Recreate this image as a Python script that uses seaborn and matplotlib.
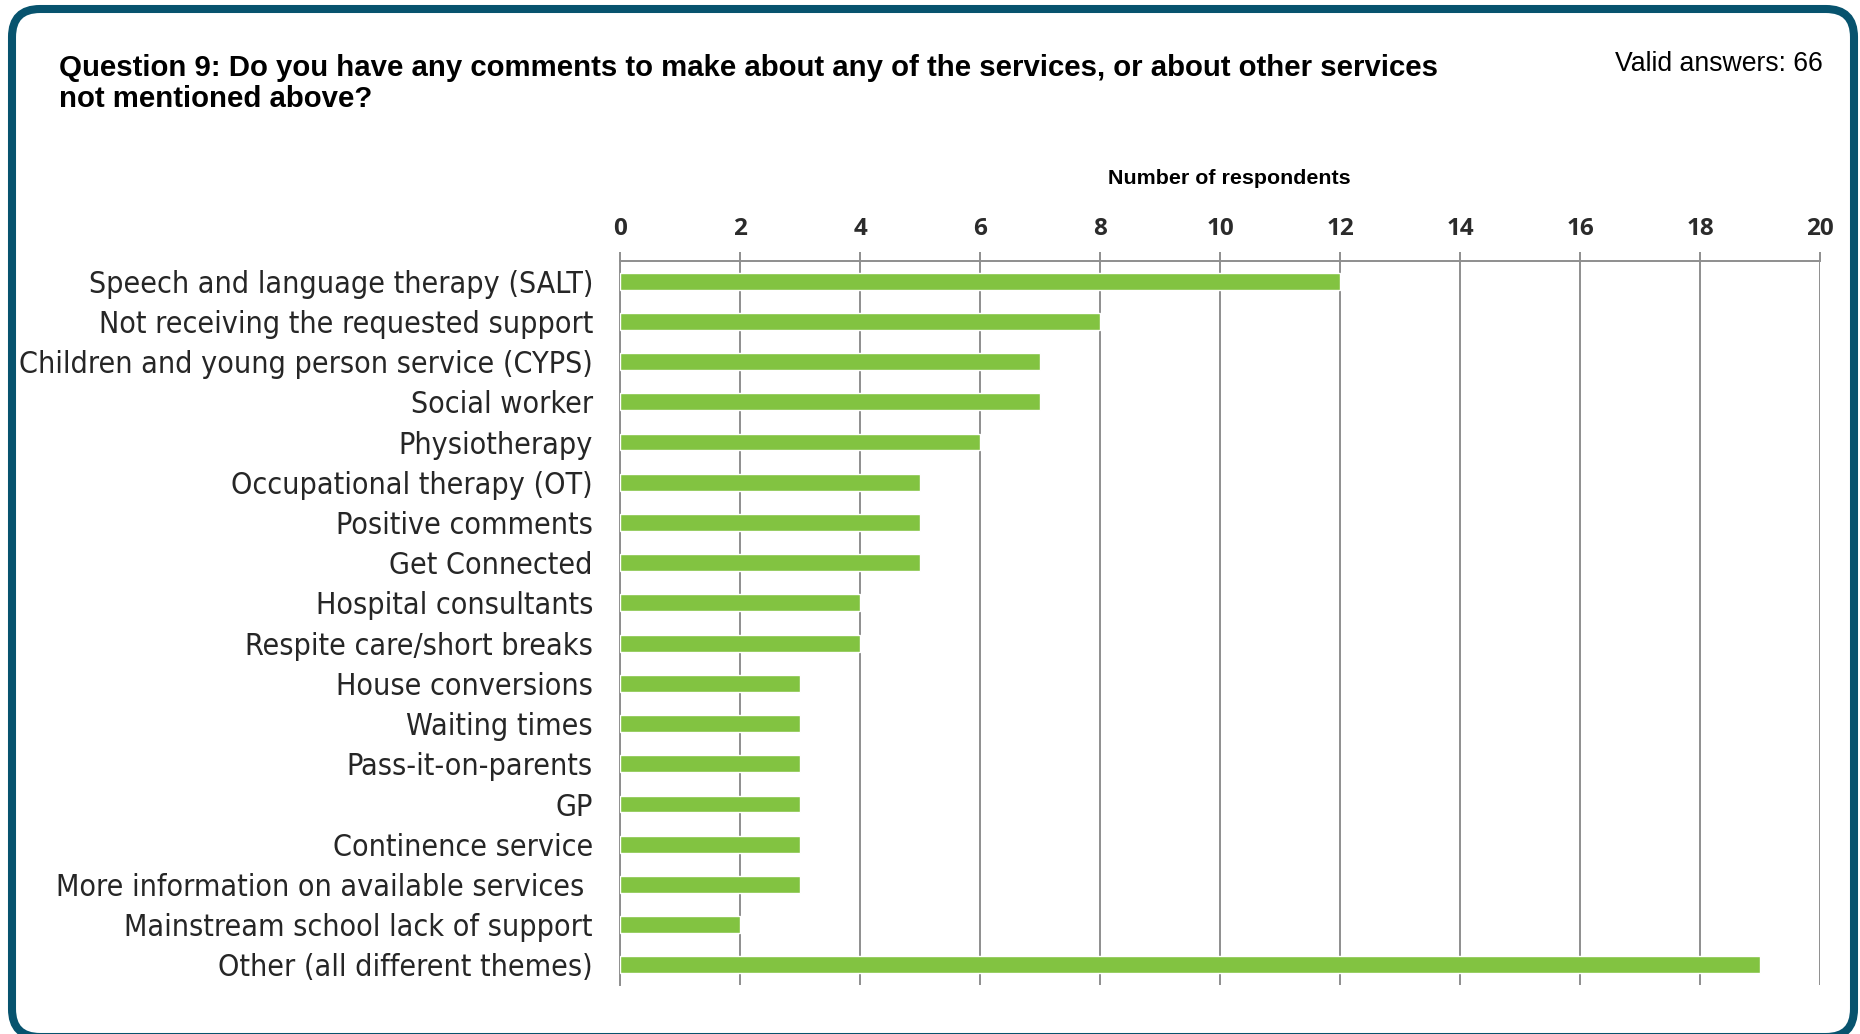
import matplotlib
matplotlib.use("Agg")
import matplotlib.pyplot as plt
from matplotlib import font_manager
from matplotlib.patches import FancyBboxPatch
from matplotlib.ticker import FixedLocator
import seaborn as sns
import pandas as pd

categories = [
    "Speech and language therapy (SALT)",
    "Not receiving the requested support",
    "Children and young person service (CYPS)",
    "Social worker",
    "Physiotherapy",
    "Occupational therapy (OT)",
    "Positive comments",
    "Get Connected",
    "Hospital consultants",
    "Respite care/short breaks",
    "House conversions",
    "Waiting times",
    "Pass-it-on-parents",
    "GP",
    "Continence service",
    "More information on available services ",
    "Mainstream school lack of support",
    "Other (all different themes)",
]
respondents = [12, 8, 7, 7, 6, 5, 5, 5, 4, 4, 3, 3, 3, 3, 3, 3, 2, 19]
x_ticks = [0, 2, 4, 6, 8, 10, 12, 14, 16, 18, 20]

title_text = ("Question 9: Do you have any comments to make about any of the services, or about other services\n"
              "not mentioned above?")
valid_text = "Valid answers: 66"
xlabel_text = "Number of respondents"

BAR = "#82C341"
GRID = "#8E8E8E"
FRAME = "#07536E"

sns.set_style("white")

# pick a narrow humanist face for the category names if one is installed
have_condensed = any(
    f.name == "DejaVu Sans" and ("Condensed" in f.fname or str(f.stretch) == "condensed")
    for f in font_manager.fontManager.ttflist
)
label_family = "DejaVu Sans" if have_condensed else "Noto Sans"
label_stretch = "condensed" if have_condensed else "normal"
label_size = 21.8 if have_condensed else 19

plt.rcParams["font.family"] = ["Liberation Sans", "DejaVu Sans"]

W, H, DPI = 1860, 1034, 100
fig = plt.figure(figsize=(W / DPI, H / DPI), dpi=DPI)

# rounded frame around the panel (bottom edge runs just past the canvas)
fx0, fy_top, fx1, fy_bot = 12, 9, 1854, 1037
frame = FancyBboxPatch((fx0 / DPI, (H - fy_bot) / DPI), (fx1 - fx0) / DPI, (fy_bot - fy_top) / DPI,
                       boxstyle="round,pad=0,rounding_size=0.28",
                       transform=fig.dpi_scale_trans, facecolor="white",
                       edgecolor=FRAME, linewidth=5.8, zorder=-10)
fig.patches.append(frame)

left, right = 620 / W, 1820 / W
top, bottom = 1 - 261 / H, 1 - 985 / H
ax = fig.add_axes([left, bottom, right - left, top - bottom])
ax.set_facecolor("none")
ax.set_zorder(2)

df = pd.DataFrame({"category": categories, "respondents": respondents})
sns.barplot(data=df, x="respondents", y="category", orient="h", color=BAR,
            width=0.42, saturation=1, ax=ax, zorder=3)

ax.set_xlim(0, 20)
ax.set_ylim(len(categories) - 0.5, -0.5)
ax.xaxis.tick_top()
ax.set_xticks(x_ticks)
ax.set_xticklabels([str(t) for t in x_ticks], fontfamily="Open Sans",
                   fontweight="bold", fontsize=17.5, color="#2b2b2b")
ax.tick_params(axis="x", which="major", direction="out", length=6.5, width=1.4,
               color=GRID, pad=8)
ax.grid(axis="x", color=GRID, linewidth=1.4, zorder=1)
ax.grid(axis="y", visible=False)
ax.set_xlabel("")
ax.set_ylabel("")

ax.tick_params(axis="y", which="major", length=0, pad=19.5)
ax.yaxis.set_minor_locator(FixedLocator([i - 0.5 for i in range(len(categories) + 1)]))
ax.tick_params(axis="y", which="minor", direction="out", length=6.2, width=1.4, color=GRID)
for lab in ax.get_yticklabels():
    lab.set_fontfamily(label_family)
    lab.set_fontstretch(label_stretch)
    lab.set_fontsize(label_size)
    lab.set_color("#262626")

for side in ("right", "bottom"):
    ax.spines[side].set_visible(False)
for side in ("top", "left"):
    ax.spines[side].set_color(GRID)
    ax.spines[side].set_linewidth(1.4)

# two-line heading; baseline alignment refers to the last line
fig.text(59 / W, 1 - 107 / H, title_text, fontsize=21.2, fontweight="bold",
         color="black", ha="left", va="baseline", linespacing=1.15)
fig.text(1823 / W, 1 - 71 / H, valid_text, fontsize=19.2, color="black",
         ha="right", va="baseline")
fig.text(1229 / W, 1 - 179 / H, xlabel_text, fontsize=15.4, fontweight="bold",
         color="black", ha="center", va="center")

fig.savefig("out.png", dpi=DPI, facecolor="white")
